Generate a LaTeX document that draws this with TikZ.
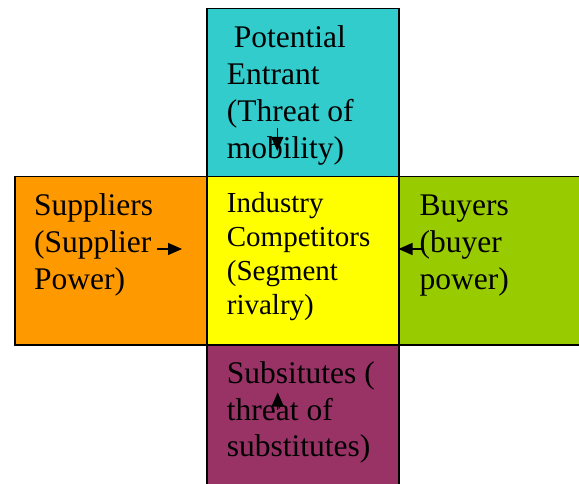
\documentclass[tikz,border=0pt]{standalone}
\usepackage{fontspec}
\setmainfont{Liberation Serif}
\usetikzlibrary{arrows.meta}
\definecolor{entrantfill}{HTML}{33CCCC}
\definecolor{supplierfill}{HTML}{FF9900}
\definecolor{rivalfill}{HTML}{FFFF00}
\definecolor{buyerfill}{HTML}{99CC00}
\definecolor{substfill}{HTML}{993366}
\begin{document}
\begin{tikzpicture}[x=1pt,y=-1pt,
  force/.style={draw=black, line width=1.5pt, inner sep=0pt, anchor=north west,
    minimum width=192pt, minimum height=168pt},
  forcetext/.style={inner sep=0pt, anchor=base west,
    font=\fontsize{31.5}{36.7}\selectfont},
  centretext/.style={inner sep=0pt, anchor=base west,
    font=\fontsize{29}{34}\selectfont},
  >={Triangle[length=14pt,width=12pt]},
  pointer/.style={line width=1.4pt, ->}]
\clip (0,0) rectangle (579,484);
\fill[white] (0,0) rectangle (579,484);

% the five boxes of the cross
\node[force, fill=entrantfill] (entrant) at (206,8) {};
\node[force, fill=supplierfill] (suppliers) at (14,176) {};
\node[force, fill=rivalfill] (industry) at (206,176) {};
\node[force, fill=buyerfill, minimum width=210pt] (buyers) at (398,176) {};
\node[force, fill=substfill, minimum height=170pt] (subst) at (206,344) {};

% box texts
\node[forcetext] (entranttext) at (226.7,48)
  {\begin{tabular}[t]{@{}l@{}}\hspace{7pt}Potential\\Entrant\\(Threat of\\mobility)\end{tabular}};
\node[forcetext] (supplierstext) at (34,215.7)
  {\begin{tabular}[t]{@{}l@{}}Suppliers\\(Supplier\\Power)\end{tabular}};
\node[centretext] (industrytext) at (226.7,213)
  {\begin{tabular}[t]{@{}l@{}}Industry\\Competitors\\(Segment\\rivalry)\end{tabular}};
\node[forcetext] (buyerstext) at (419.5,215.7)
  {\begin{tabular}[t]{@{}l@{}}Buyers\\(buyer\\power)\end{tabular}};
\node[forcetext] (substtext) at (226.7,383.3)
  {\begin{tabular}[t]{@{}l@{}}Subsitutes (\\threat of\\substitutes)\end{tabular}};

% small pointers toward the centre
\coordinate (entranttail) at (277.3,128);
\coordinate (entranttip) at (277.3,151);
\coordinate (supplierstail) at (157,249);
\coordinate (supplierstip) at (182,249);
\coordinate (buyerstail) at (422,249);
\coordinate (buyerstip) at (398.5,249);
\coordinate (substtail) at (277.7,410);
\coordinate (substtip) at (277.7,392.5);
\draw[pointer] (entranttail) -- (entranttip);
\draw[pointer] (supplierstail) -- (supplierstip);
\draw[pointer] (buyerstail) -- (buyerstip);
\draw[pointer] (substtail) -- (substtip);
\end{tikzpicture}
\end{document}
